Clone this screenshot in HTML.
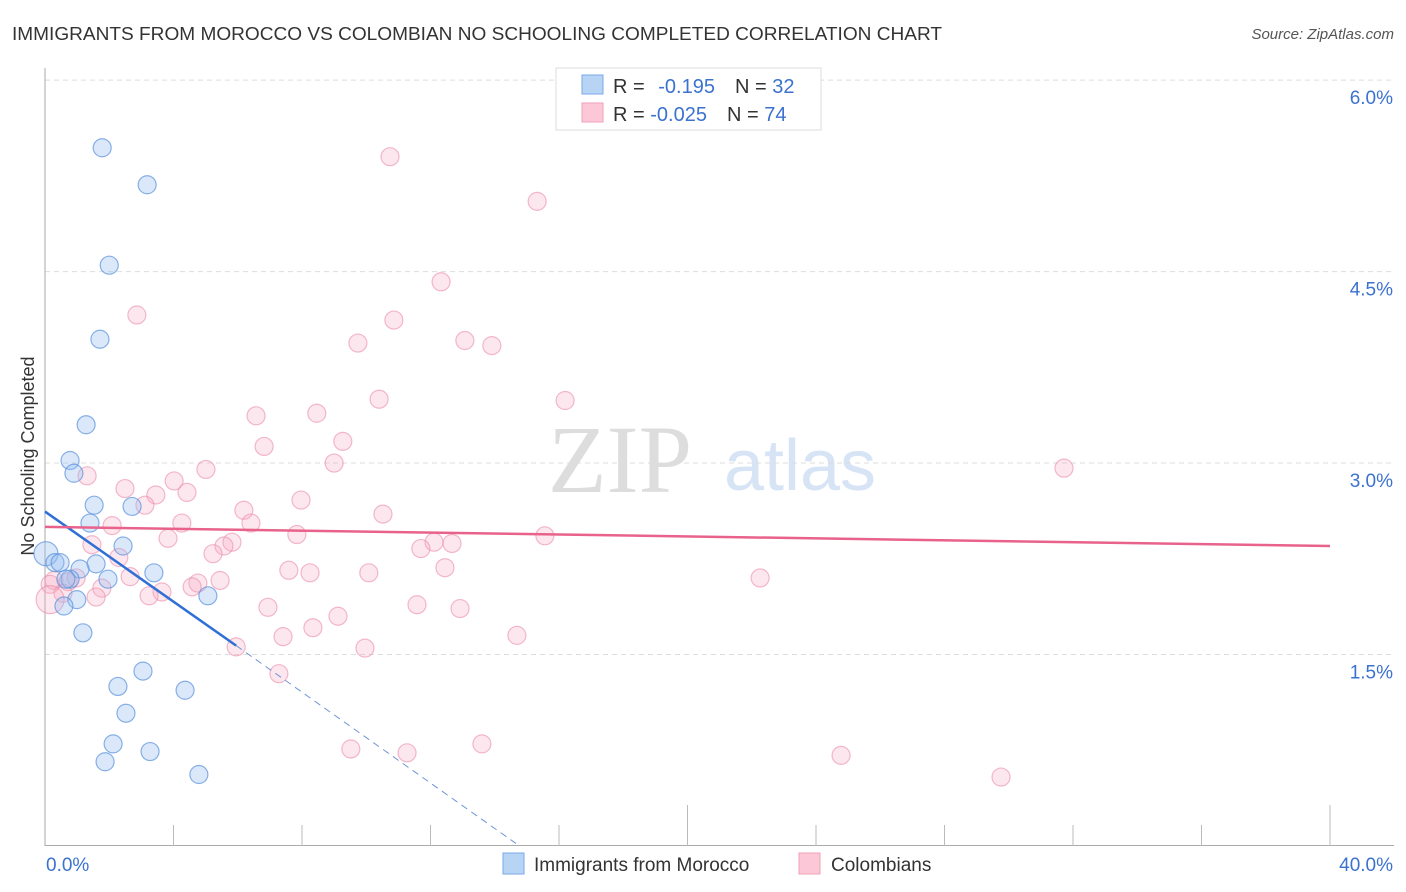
<!DOCTYPE html>
<html><head><meta charset="utf-8"><style>
body{margin:0;background:#fff;font-family:"Liberation Sans",sans-serif;}
#wrap{position:relative;width:1406px;height:892px;overflow:hidden;}
</style></head><body><div id="wrap">
<svg id="svg" width="1406" height="892" xmlns="http://www.w3.org/2000/svg">
<text x="12" y="40" font-size="18" fill="#333" textLength="930" lengthAdjust="spacingAndGlyphs">IMMIGRANTS FROM MOROCCO VS COLOMBIAN NO SCHOOLING COMPLETED CORRELATION CHART</text>
<text x="1394" y="39" font-size="15" fill="#555" text-anchor="end" font-style="italic">Source: ZipAtlas.com</text>
<text x="34" y="456" font-size="18" fill="#333" text-anchor="middle" transform="rotate(-90 34 456)">No Schooling Completed</text>
<text x="620" y="492" font-size="96" fill="#ddd" font-family="Liberation Serif" text-anchor="middle">ZIP</text>
<text x="800" y="490" font-size="72" fill="#d6e4f5" text-anchor="middle">atlas</text>
<g id="grid"></g><g id="pts"></g><g id="lines"></g>
<g>
<rect x="556" y="68" width="265" height="62" fill="#fff" stroke="#ddd"/>
<rect x="582" y="75" width="21" height="19" fill="#b8d4f5" stroke="#7aaae8"/>
<rect x="582" y="103" width="21" height="19" fill="#fcc8d8" stroke="#f0a0b8"/>
<text x="613" y="93" font-size="20" fill="#333">R = <tspan fill="#3b72d0" dx="8">-0.195</tspan><tspan dx="20" fill="#333">N = </tspan><tspan fill="#3b72d0">32</tspan></text>
<text x="613" y="121" font-size="20" fill="#333">R = <tspan fill="#3b72d0">-0.025</tspan><tspan dx="20" fill="#333">N = </tspan><tspan fill="#3b72d0">74</tspan></text>
</g>
<g>
<rect x="503" y="853" width="21" height="21" fill="#b8d4f5" stroke="#7aaae8"/>
<text x="534" y="871" font-size="19" fill="#333">Immigrants from Morocco</text>
<rect x="799" y="853" width="21" height="21" fill="#fcc8d8" stroke="#f0a0b8"/>
<text x="831" y="871" font-size="19" fill="#333">Colombians</text>
</g>
</svg></div>
<script>
const yTicks=[1.5,3.0,4.5,6.0];
const xLabels=["0.0%","40.0%"];
const blueX=[1.78,3.18,2.0,1.71,1.28,0.78,0.9,1.53,2.71,1.4,2.43,0.03,0.31,0.47,1.59,3.39,1.09,0.78,0.65,1.96,5.07,0.99,0.59,1.18,3.05,2.27,4.36,2.52,2.12,3.27,1.87,4.79];
const blueY=[5.47,5.18,4.55,3.97,3.3,3.02,2.92,2.67,2.66,2.53,2.35,2.29,2.22,2.22,2.21,2.14,2.17,2.09,2.09,2.09,1.96,1.93,1.88,1.67,1.37,1.25,1.22,1.04,0.8,0.74,0.66,0.56];
const pinkX=[10.74,15.32,12.33,2.86,10.86,13.07,9.74,13.91,10.4,16.19,6.57,8.46,9.27,6.82,9.0,31.72,1.31,5.01,4.02,2.49,3.45,4.42,3.11,7.97,6.19,10.52,4.26,6.41,2.09,15.56,7.84,3.83,1.46,5.82,5.57,12.67,12.11,11.7,5.23,2.3,7.59,12.45,10.08,8.25,2.65,22.26,0.28,0.72,0.97,0.16,5.45,4.76,4.58,1.77,3.64,3.24,11.58,12.92,6.94,1.59,0.56,9.12,8.34,7.41,14.69,9.96,5.95,7.28,9.52,11.27,13.6,24.78,29.76,0.16];
const pinkY=[5.4,5.05,4.42,4.16,4.12,3.96,3.94,3.92,3.5,3.49,3.37,3.39,3.17,3.13,3.0,2.96,2.9,2.95,2.86,2.8,2.75,2.77,2.67,2.71,2.63,2.6,2.53,2.53,2.51,2.43,2.44,2.41,2.36,2.38,2.35,2.37,2.38,2.33,2.29,2.26,2.16,2.18,2.14,2.14,2.11,2.1,2.08,2.07,2.1,2.05,2.08,2.06,2.03,2.02,1.99,1.96,1.89,1.86,1.87,1.95,1.98,1.8,1.71,1.64,1.65,1.55,1.56,1.35,0.76,0.73,0.8,0.71,0.54,1.93];
const X=v=>45+v/40*1285, Y=v=>846-v*127.65;
const NS="http://www.w3.org/2000/svg";
function mk(t,a,p){const e=document.createElementNS(NS,t);for(const k in a)e.setAttribute(k,a[k]);p.appendChild(e);return e;}
const g=document.getElementById('grid');
yTicks.forEach(t=>{const l=mk('line',{x1:45,x2:1394,y1:Y(t),y2:Y(t),stroke:'#ddd','stroke-dasharray':'5,4'},g);


const tx=mk('text',{x:1393,y:Y(t)+24,'font-size':19,fill:'#3b72d0','text-anchor':'end'},g);tx.textContent=t.toFixed(1)+'%';

});
mk('line',{x1:45,x2:45,y1:68,y2:846,stroke:'#aaa'},g);
mk('line',{x1:45,x2:1394,y1:845.5,y2:845.5,stroke:'#aaa'},g);
for(let i=1;i<=10;i++){const x=X(i*4);mk('line',{x1:x,x2:x,y1:(i==5||i==10)?805:825,y2:846,stroke:'#bbb'},g);}
const xl=[[X(0)+1,'start'],[X(40)+63,'end']];
xLabels.forEach((s,i)=>{const t=mk('text',{x:xl[i][0],y:871,'font-size':19,fill:'#3b72d0','text-anchor':xl[i][1]},g);t.textContent=s;

});
const p=document.getElementById('pts');
pinkX.forEach((v,i)=>{const c=mk('circle',{cx:X(v),cy:Y(pinkY[i]),r:i==pinkX.length-1?14:9,fill:'rgba(248,170,195,0.28)',stroke:'rgba(235,140,170,0.6)','stroke-width':1.2},p);

});
blueX.forEach((v,i)=>{const c=mk('circle',{cx:X(v),cy:Y(blueY[i]),r:i==11?12:9,fill:'rgba(150,190,240,0.35)',stroke:'rgba(90,145,220,0.7)','stroke-width':1.2},p);

});
const L=document.getElementById('lines');
const bl=mk('line',{x1:X(0),y1:Y(2.62),x2:X(5.95),y2:Y(1.57),stroke:'#2f6fd6','stroke-width':2.5},L);


const bd=mk('line',{x1:X(5.95),y1:Y(1.57),x2:X(14.66),y2:Y(0.02),stroke:'#6f96d8','stroke-width':1,'stroke-dasharray':'7,5'},L);


const pl=mk('line',{x1:X(0),y1:Y(2.5),x2:X(40),y2:Y(2.35),stroke:'#e8628c','stroke-width':2.5},L);


</script></body></html>
